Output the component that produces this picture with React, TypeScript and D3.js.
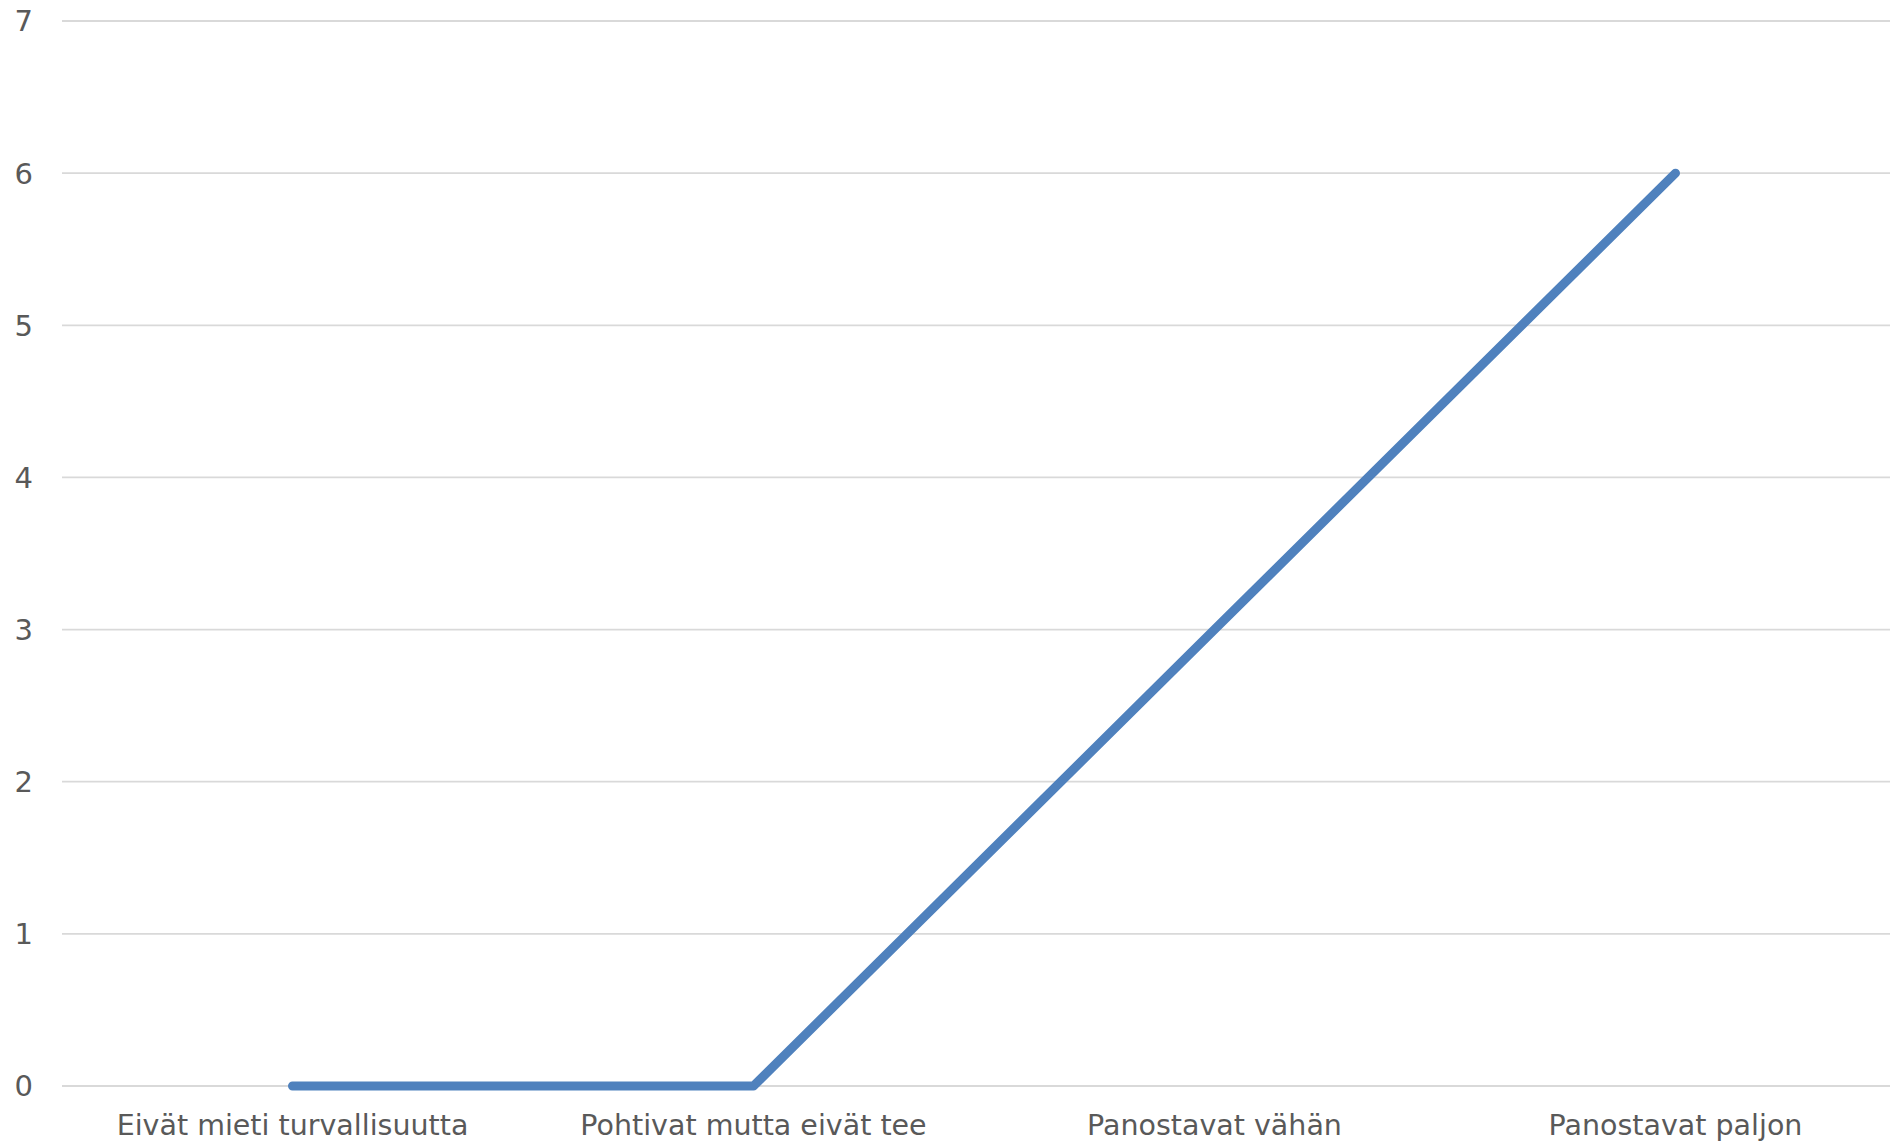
import React from "react";
import * as d3 from "d3";

const categories = ["Eivät mieti turvallisuutta", "Pohtivat mutta eivät tee", "Panostavat vähän", "Panostavat paljon"];
const values = [0, 0, 3, 6];
const yTicks = [0, 1, 2, 3, 4, 5, 6, 7];

export default function App() {
  const W = 1890, H = 1146;
  const left = 62, plotW = 1844, top = 21, bottom = 1086;
  const x = d3.scaleBand<string>().domain(categories).range([left, left + plotW]).padding(0);
  const y = d3.scaleLinear().domain([0, 7]).range([bottom, top]);
  const line = d3.line<number>()
    .x((_, i) => (x(categories[i]) as number) + x.bandwidth() / 2)
    .y((d) => y(d));
  const font = "'DejaVu Sans', sans-serif";
  return (
    <svg width={W} height={H} style={{ position: "absolute", left: 0, top: 0, background: "#fff" }}>
      {yTicks.map((t) => (
        <g key={t}>
          <line x1={left} x2={W} y1={y(t)} y2={y(t)} stroke="#D9D9D9" strokeWidth={1.8} />
          <text x={33} y={y(t)} dy="0.36em" textAnchor="end" fontFamily={font} fontSize={29} fill="#595959">{t}</text>
        </g>
      ))}
      {categories.map((c) => (
        <text key={c} x={(x(c) as number) + x.bandwidth() / 2} y={1135} textAnchor="middle" fontFamily={font} fontSize={28.5} fill="#595959">{c}</text>
      ))}
      <path d={line(values) || ""} fill="none" stroke="#4F81BD" strokeWidth={9} strokeLinecap="round" strokeLinejoin="round" />
    </svg>
  );
}
